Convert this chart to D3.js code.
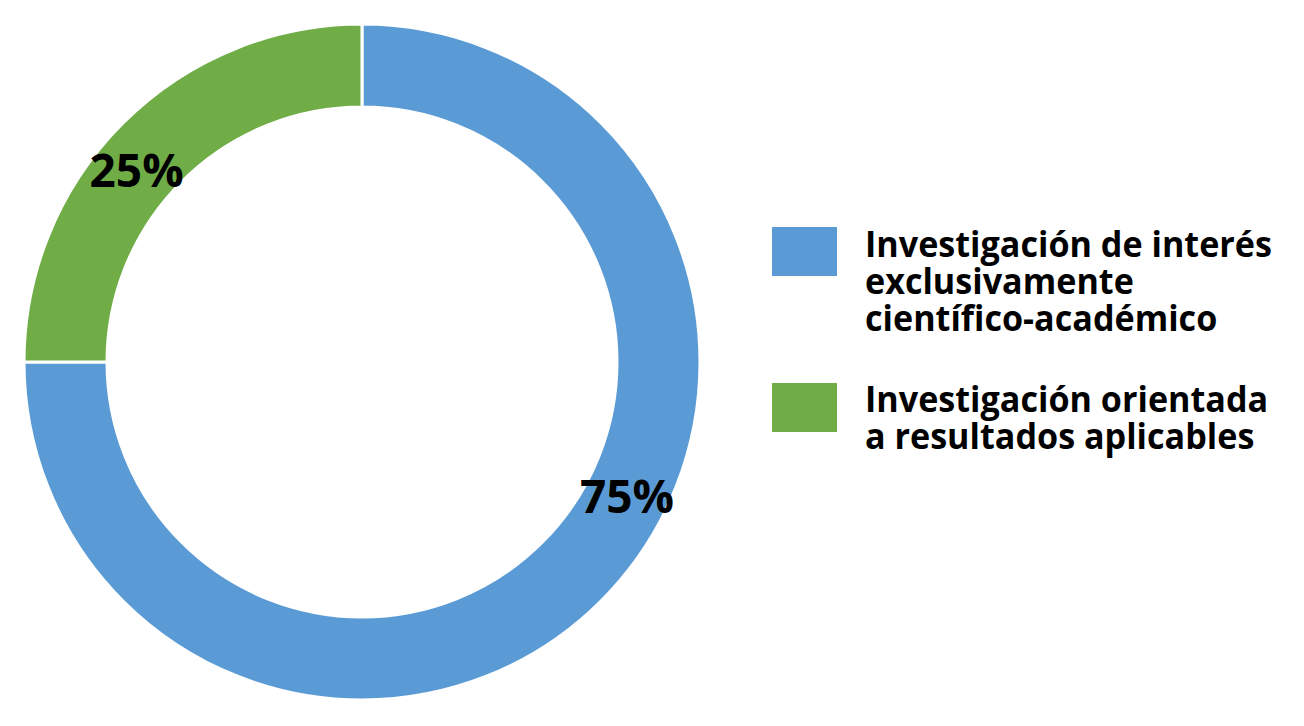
<!DOCTYPE html>
<html>
<head>
<meta charset="utf-8">
<script src="https://cdn.jsdelivr.net/npm/d3@7"></script>
<style>
html,body{margin:0;padding:0;background:#fff;}
svg{display:block;}
</style>
</head>
<body>
<svg id="chart" width="1304" height="726"></svg>
<script>
const categories = ["Investigación de interés exclusivamente científico-académico", "Investigación orientada a resultados aplicables"];
const legendLines = [["Investigación de interés", "exclusivamente", "científico-académico"], ["Investigación orientada", "a resultados aplicables"]];
const values = [75, 25];
const valueLabels = ["75%", "25%"];
const colors = ["#5B9BD5", "#70AD47"];
const labelAngleFrac = [0.432, 0.45]; // label position within each slice (fraction of slice span)

const svg = d3.select("#chart");
const cx = 362, cy = 362, rOuter = 338, rInner = 255;

const pie = d3.pie().sort(null).value(d => d);
const arcs = pie(values);
const arc = d3.arc().innerRadius(rInner).outerRadius(rOuter);

const g = svg.append("g").attr("transform", `translate(${cx},${cy})`);
g.selectAll("path.slice").data(arcs).join("path")
  .attr("class", "slice")
  .attr("d", arc)
  .attr("fill", (d, i) => colors[i])
  .attr("stroke", "#fff")
  .attr("stroke-width", 3);

const midR = (rInner + rOuter) / 2;
g.selectAll("text.val").data(arcs).join("text")
  .attr("class", "val")
  .attr("x", (d, i) => { const a = d.startAngle + (d.endAngle - d.startAngle) * labelAngleFrac[i]; return midR * Math.sin(a); })
  .attr("y", (d, i) => { const a = d.startAngle + (d.endAngle - d.startAngle) * labelAngleFrac[i]; return -midR * Math.cos(a); })
  .attr("text-anchor", "middle")
  .attr("dominant-baseline", "central")
  .attr("font-family", "'Open Sans', sans-serif")
  .attr("font-weight", 700)
  .attr("font-size", 46)
  .attr("fill", "#000")
  .text((d, i) => valueLabels[i]);

// Legend
const legX = 772, legTop = [227, 383], sw = 65, sh = 49;
const textX = 865, lineH = 37, firstBase = [257, 412];
const leg = svg.append("g");
categories.forEach((c, i) => {
  leg.append("rect").attr("x", legX).attr("y", legTop[i]).attr("width", sw).attr("height", sh).attr("fill", colors[i]);
});
const tg = leg.append("g");
const texts = [];
legendLines.forEach((lines, i) => {
  lines.forEach((ln, j) => {
    const t = tg.append("text")
      .attr("x", 0)
      .attr("y", firstBase[i] + j * lineH)
      .attr("font-family", "'Open Sans', sans-serif")
      .attr("font-weight", 700)
      .attr("font-size", 36)
      .attr("fill", "#000")
      .text(ln);
    texts.push(t);
  });
});
// horizontally condense to match reference width of first line
const w0 = texts[0].node().getComputedTextLength();
const sx = 407 / w0;
tg.attr("transform", `translate(${textX},0) scale(${sx},1)`);
</script>
</body>
</html>
